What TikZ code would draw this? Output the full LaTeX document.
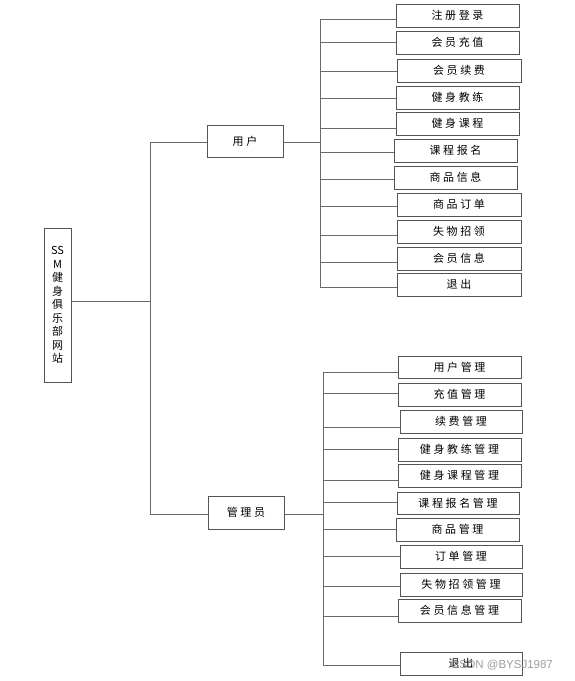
\documentclass[tikz,border=0pt]{standalone}
\usepackage{fontspec}
\newfontfamily\cjk{Noto Sans CJK SC}[LetterSpace=24]
\newfontfamily\cjkroot{Noto Sans CJK SC}
\newfontfamily\wm{Liberation Sans}
\definecolor{linegray}{RGB}{105,105,105}
\definecolor{boxgray}{RGB}{85,85,85}
\tikzset{
  box/.style={draw=boxgray, line width=1pt, inner sep=0pt, minimum height=23pt,
    font=\cjk\fontsize{11}{12}\selectfont},
  link/.style={draw=linegray, line width=1pt},
}
\begin{document}
\begin{tikzpicture}[x=1pt,y=-1pt]
\useasboundingbox (0,0) rectangle (575,681);
% root
\node[box, minimum width=27pt, minimum height=154pt, align=center,
  font=\cjkroot\fontsize{11}{13.5}\selectfont] (root) at (57.5,305)
  {SS\\M\\健\\身\\俱\\乐\\部\\网\\站};
% second level
\node[box, minimum width=76pt, minimum height=32pt] (user) at (245,141) {用户};
\node[box, minimum width=76pt, minimum height=33pt] (admin) at (246,512.5) {管理员};
% user children
\node[box, minimum width=123pt] (u1) at (457.5,15.5) {注册登录};
\node[box, minimum width=123pt] (u2) at (457.5,42.5) {会员充值};
\node[box, minimum width=124pt] (u3) at (459,70.5) {会员续费};
\node[box, minimum width=123pt] (u4) at (457.5,97.5) {健身教练};
\node[box, minimum width=123pt] (u5) at (457.5,123.5) {健身课程};
\node[box, minimum width=123pt] (u6) at (455.5,150.5) {课程报名};
\node[box, minimum width=123pt] (u7) at (455.5,177.5) {商品信息};
\node[box, minimum width=124pt] (u8) at (459,204.5) {商品订单};
\node[box, minimum width=124pt] (u9) at (459,231.5) {失物招领};
\node[box, minimum width=124pt] (u10) at (459,258.5) {会员信息};
\node[box, minimum width=124pt] (u11) at (459,284.5) {退出};
% admin children
\node[box, minimum width=123pt, minimum height=22pt] (a1) at (459.5,367) {用户管理};
\node[box, minimum width=123pt] (a2) at (459.5,394.5) {充值管理};
\node[box, minimum width=122pt] (a3) at (461,421.5) {续费管理};
\node[box, minimum width=123pt] (a4) at (459.5,449.5) {健身教练管理};
\node[box, minimum width=123pt] (a5) at (459.5,475.5) {健身课程管理};
\node[box, minimum width=122pt, minimum height=22pt] (a6) at (458,503) {课程报名管理};
\node[box, minimum width=123pt] (a7) at (457.5,529.5) {商品管理};
\node[box, minimum width=122pt] (a8) at (461,556.5) {订单管理};
\node[box, minimum width=122pt] (a9) at (461,584.5) {失物招领管理};
\node[box, minimum width=123pt] (a10) at (459.5,610.5) {会员信息管理};
\node[box, minimum width=122pt] (a11) at (461,663.5) {退出};
% trunk
\coordinate (tr) at (150,301);
\coordinate (tu) at (150,142);
\coordinate (ta) at (150,514);
\draw[link] (root.east |- tr) -- (tr);
\draw[link] (tu) -- (ta);
\draw[link] (tu) -- (tu -| user.west);
\draw[link] (ta) -- (ta -| admin.west);
% user bus
\coordinate (ub) at (320,142);
\draw[link] (user.east |- ub) -- (ub);
\foreach \i/\y in {1/19,2/42,3/71,4/98,5/128,6/152,7/179,8/206,9/235,10/262,11/287}{
  \coordinate (uc\i) at (320,\y);
  \draw[link] (uc\i) -- (uc\i -| u\i.west);
}
\draw[link] (uc1) -- (uc11);
% admin bus
\coordinate (ab) at (323,514);
\draw[link] (admin.east |- ab) -- (ab);
\foreach \i/\y in {1/372,2/393,3/427,4/449,5/480,6/502,7/529,8/556,9/586,10/616,11/665}{
  \coordinate (ac\i) at (323,\y);
  \draw[link] (ac\i) -- (ac\i -| a\i.west);
}
\draw[link] (ac1) -- (ac11);
% watermark
\node[text=black!45, opacity=0.85, font=\wm\fontsize{11.5}{13}\selectfont, inner sep=0pt] (wmk) at (502,665) {CSDN @BYSJ1987};
\end{tikzpicture}
\end{document}
